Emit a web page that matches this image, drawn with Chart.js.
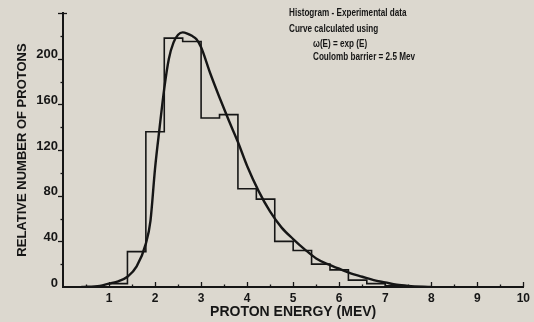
<!DOCTYPE html>
<html>
<head>
<meta charset="utf-8">
<script src="https://cdn.jsdelivr.net/npm/chart.js@4.4.1/dist/chart.umd.min.js"></script>
<style>
  html, body { margin: 0; padding: 0; background: #dcd8cf; }
  #wrap { width: 534px; height: 322px; }
</style>
</head>
<body>
<div id="wrap"><canvas id="c" width="534" height="322"></canvas></div>
<script>
// Experimental histogram: left bin edges (MeV) and counts per 0.4 MeV bin
const binEdges  = [1.0, 1.4, 1.8, 2.2, 2.6, 3.0, 3.4, 3.8, 4.2, 4.6, 5.0, 5.4, 5.8, 6.2, 6.6, 7.0, 7.4];
const binCounts = [3,   31,  136, 218, 215, 148, 151, 86,  77,  40,  32,  20,  15,  6,   3,   1,   0];

// Calculated curve, ω(E) = exp(E), Coulomb barrier 2.5 MeV
const curveEnergy = [0.4, 0.8, 1.0, 1.2, 1.4, 1.6, 1.8, 1.9, 2.0, 2.1, 2.2, 2.3, 2.4, 2.5, 2.6, 2.7, 2.8, 2.9, 3.0,
                     3.2, 3.4, 3.6, 3.8, 4.0, 4.25, 4.5, 4.75, 5.0, 5.25, 5.5, 5.75, 6.0, 6.25, 6.5, 6.75, 7.0, 7.25, 7.5, 8.0];
const curveValues = [0,   1,   3,   5,   9,   18,  38,  58,  104, 140, 174, 200, 214, 221, 223, 222, 220, 217, 210,
                     187, 166, 146, 127, 106, 84,   66,  52,   42,  33,   25,  20,   16,  12,   9,   6,    4,   2,    1,   0];

// Axis tick labels
const xTickLabels = ['1', '2', '3', '4', '5', '6', '7', '8', '9', '10'];
const yTickLabels = ['0', '40', '80', '120', '160', '200'];

const legendLines = [
  { text: 'Histogram - Experimental data', x: 289, y: 13 },
  { text: 'Curve calculated using',        x: 289, y: 29 },
  { text: 'ω(E) = exp (E)',                x: 313, y: 44 },
  { text: 'Coulomb barrier = 2.5 Mev',     x: 313, y: 57 }
];

const INK = '#161616';
const BG = '#dcd8cf';

const histData = binEdges.map((e, i) => ({ x: e, y: binCounts[i] }));
const curveData = curveEnergy.map((e, i) => ({ x: e, y: curveValues[i] }));

const paperPlugin = {
  id: 'paper',
  beforeDraw(chart) {
    const ctx = chart.ctx;
    ctx.save();
    ctx.fillStyle = BG;
    ctx.fillRect(0, 0, chart.width, chart.height);
    ctx.restore();
  },
  afterDraw(chart) {
    const ctx = chart.ctx;
    const xs = chart.scales.x, ys = chart.scales.y;
    const y0 = ys.getPixelForValue(0);
    const x0 = xs.getPixelForValue(0);
    ctx.save();
    ctx.strokeStyle = INK;
    ctx.lineWidth = 1.3;
    // x-axis ticks pointing up, majors at whole MeV, minors at half
    for (let v = 0.5; v <= 10.001; v += 0.5) {
      const px = Math.round(xs.getPixelForValue(v)) + 0.5;
      const len = Math.abs(v - Math.round(v)) < 1e-6 ? 5 : 2.5;
      ctx.beginPath(); ctx.moveTo(px, y0); ctx.lineTo(px, y0 - len); ctx.stroke();
    }
    // y-axis ticks pointing left, majors every 40, minors every 20
    for (let v = 20; v <= 240; v += 20) {
      const py = Math.round(ys.getPixelForValue(v)) + 0.5;
      const len = v % 40 === 0 ? 5 : 2.5;
      ctx.beginPath(); ctx.moveTo(x0, py); ctx.lineTo(x0 - len, py); ctx.stroke();
    }
    // small cap at the top of the y axis
    const top = ys.getPixelForValue(240);
    ctx.beginPath(); ctx.moveTo(x0, top + 0.5); ctx.lineTo(x0 + 4, top + 0.5); ctx.stroke();

    // annotation text, condensed bold lettering
    ctx.fillStyle = INK;
    ctx.textBaseline = 'middle';
    ctx.font = 'bold 11px "Liberation Sans", sans-serif';
    legendLines.forEach(l => {
      ctx.save();
      ctx.translate(l.x, l.y);
      ctx.scale(0.74, 1);
      ctx.fillText(l.text, 0, 0);
      ctx.restore();
    });
    ctx.restore();
  }
};

new Chart(document.getElementById('c'), {
  type: 'line',
  data: {
    datasets: [
      {
        label: 'Experimental data',
        data: histData,
        stepped: 'before',
        borderColor: INK,
        borderWidth: 1.6,
        pointRadius: 0,
        fill: false
      },
      {
        label: 'Calculated',
        data: curveData,
        cubicInterpolationMode: 'monotone',
        borderColor: INK,
        borderWidth: 2.4,
        pointRadius: 0,
        fill: false
      }
    ]
  },
  options: {
    responsive: false,
    animation: false,
    devicePixelRatio: 1,
    layout: { padding: { left: 0, right: 6, top: 13, bottom: 0 } },
    plugins: {
      legend: { display: false },
      tooltip: { enabled: false }
    },
    scales: {
      x: {
        type: 'linear',
        min: 0, max: 10,
        afterFit(s) { s.height = 35; },
        afterBuildTicks(s) { s.ticks = xTickLabels.map(t => ({ value: Number(t) })); },
        grid: { display: false, drawTicks: false },
        border: { display: true, color: INK, width: 2 },
        ticks: {
          color: INK, padding: 4, maxRotation: 0, autoSkip: false,
          font: { family: '"Liberation Sans", sans-serif', size: 12, weight: 'bold' },
          callback: v => String(v)
        },
        title: {
          display: true, text: 'PROTON ENERGY (MEV)', color: INK,
          font: { family: '"Liberation Sans", sans-serif', size: 14, weight: 'bold' },
          padding: { top: 0, bottom: 1 }
        }
      },
      y: {
        type: 'linear',
        min: 0, max: 240,
        afterFit(s) { s.width = 63; },
        afterBuildTicks(s) { s.ticks = yTickLabels.map(t => ({ value: Number(t) })); },
        grid: { display: false, drawTicks: false },
        border: { display: true, color: INK, width: 2 },
        ticks: {
          color: INK, padding: 5, autoSkip: false, labelOffset: -4,
          font: { family: '"Liberation Sans", sans-serif', size: 13, weight: 'bold' }
        },
        title: {
          display: true, text: 'RELATIVE NUMBER OF PROTONS', color: INK,
          font: { family: '"Liberation Sans", sans-serif', size: 13, weight: 'bold' },
          padding: { top: 15, bottom: 0 }
        }
      }
    }
  },
  plugins: [paperPlugin]
});
</script>
</body>
</html>
